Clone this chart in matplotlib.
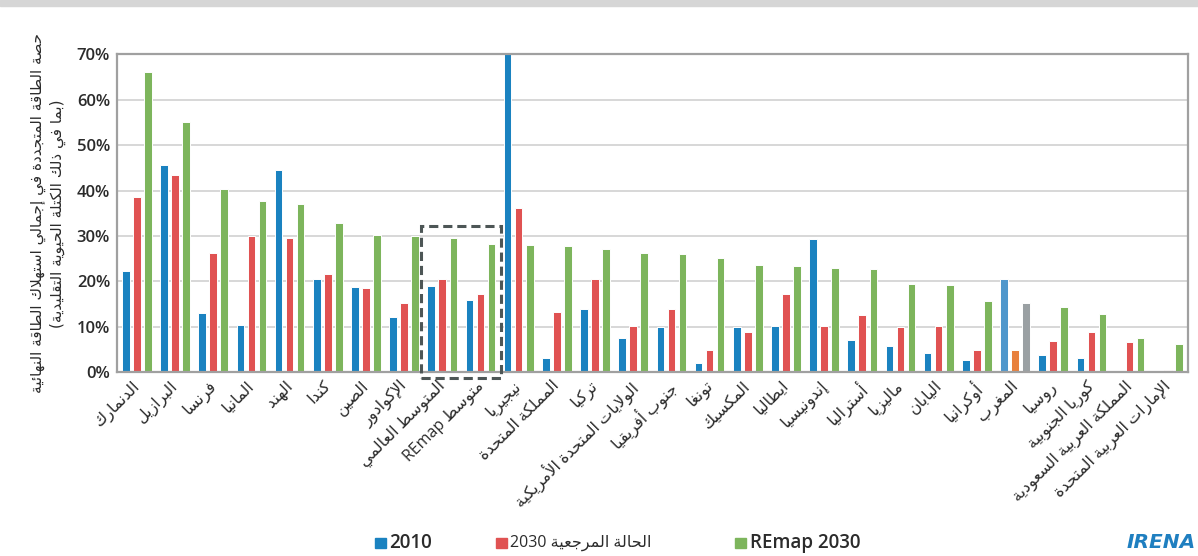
import re
import numpy as np
import matplotlib
matplotlib.use("Agg")
import matplotlib.pyplot as plt
from matplotlib.patches import Rectangle
from matplotlib.transforms import ScaledTranslation

# ---------------------------------------------------------------- data
countries = [
    "الدنمارك", "البرازيل", "فرنسا", "المانيا", "الهند", "كندا", "الصين",
    "الإكوادور", "المتوسط العالمي", "متوسط REmap", "نيجيريا", "المملكة المتحدة",
    "تركيا", "الولايات المتحدة الأمريكية", "جنوب أفريقيا", "تونغا", "المكسيك",
    "ايطاليا", "إندونيسيا", "أستراليا", "ماليزيا", "اليابان", "أوكرانيا",
    "المغرب", "روسيا", "كوريا الجنوبية", "المملكة العربية السعودية",
    "الإمارات العربية المتحدة",
]
share_2010 = [22.3, 45.7, 13.0, 10.4, 44.5, 20.6, 18.7, 12.2, 19.0, 16.0,
              70.0, 3.1, 14.0, 7.5, 9.9, 2.0, 9.9, 10.2, 29.3, 7.1, 5.7,
              4.3, 2.8, 20.6, 3.7, 3.1, 0.2, 0.0]
share_ref_2030 = [38.6, 43.5, 26.3, 29.9, 29.6, 21.7, 18.5, 15.2, 20.6, 17.3,
                  36.1, 13.3, 20.6, 10.2, 14.0, 4.9, 8.8, 17.3, 10.3, 12.7,
                  10.0, 10.2, 4.9, 4.9, 6.8, 8.9, 6.6, 0.4]
share_remap_2030 = [66.0, 55.1, 40.4, 37.6, 37.1, 32.9, 30.2, 29.9, 29.6, 28.2,
                    28.1, 27.9, 27.1, 26.3, 26.1, 25.1, 23.6, 23.4, 22.9, 22.7,
                    19.4, 19.3, 15.6, 15.3, 14.3, 12.8, 7.5, 6.3]
yticks = [0, 10, 20, 30, 40, 50, 60, 70]
highlight = ["المتوسط العالمي", "متوسط REmap"]
special = "المغرب"

series_names = ["2010", "الحالة المرجعية 2030", "REmap 2030"]
ylabel_lines = ["حصة الطاقة المتجددة في إجمالي استهلاك الطاقة النهائية",
                "(بما في ذلك الكتلة الحيوية التقليدية)"]

# ---------------------------------------------------------------- arabic shaping
_FORMS = {
    'ء': (0xFE80, 1), 'آ': (0xFE81, 2), 'أ': (0xFE83, 2), 'ؤ': (0xFE85, 2),
    'إ': (0xFE87, 2), 'ئ': (0xFE89, 4), 'ا': (0xFE8D, 2), 'ب': (0xFE8F, 4),
    'ة': (0xFE93, 2), 'ت': (0xFE95, 4), 'ث': (0xFE99, 4), 'ج': (0xFE9D, 4),
    'ح': (0xFEA1, 4), 'خ': (0xFEA5, 4), 'د': (0xFEA9, 2), 'ذ': (0xFEAB, 2),
    'ر': (0xFEAD, 2), 'ز': (0xFEAF, 2), 'س': (0xFEB1, 4), 'ش': (0xFEB5, 4),
    'ص': (0xFEB9, 4), 'ض': (0xFEBD, 4), 'ط': (0xFEC1, 4), 'ظ': (0xFEC5, 4),
    'ع': (0xFEC9, 4), 'غ': (0xFECD, 4), 'ف': (0xFED1, 4), 'ق': (0xFED5, 4),
    'ك': (0xFED9, 4), 'ل': (0xFEDD, 4), 'م': (0xFEE1, 4), 'ن': (0xFEE5, 4),
    'ه': (0xFEE9, 4), 'و': (0xFEED, 2), 'ى': (0xFEEF, 2), 'ي': (0xFEF1, 4),
}
_LAM_ALEF = {'آ': 0xFEF5, 'أ': 0xFEF7, 'إ': 0xFEF9, 'ا': 0xFEFB}


def _join_type(item):
    c = item[0]
    if c == 'LA':
        return 'R'
    if c in _FORMS:
        n = _FORMS[c][1]
        return 'D' if n == 4 else ('R' if n == 2 else 'U')
    return 'U'


def _shape(text):
    items, i = [], 0
    while i < len(text):
        c = text[i]
        if c == 'ل' and i + 1 < len(text) and text[i + 1] in _LAM_ALEF:
            items.append(('LA', _LAM_ALEF[text[i + 1]]))
            i += 2
        else:
            items.append((c, None))
            i += 1
    out = []
    for k, item in enumerate(items):
        t = _join_type(item)
        prev = _join_type(items[k - 1]) if k > 0 else 'U'
        nxt = _join_type(items[k + 1]) if k + 1 < len(items) else 'U'
        jp = t in 'DR' and prev == 'D'
        jn = t == 'D' and nxt in 'DR'
        c, lig = item
        if c == 'LA':
            out.append(chr(lig + (1 if jp else 0)))
        elif c in _FORMS:
            base = _FORMS[c][0]
            if t == 'U':
                off = 0
            elif jp and jn:
                off = 3
            elif jn:
                off = 2
            elif jp:
                off = 1
            else:
                off = 0
            out.append(chr(base + off))
        else:
            out.append(c)
    return ''.join(out)


_MIRROR = str.maketrans("()", ")(")


def ar(text):
    """Return the visual (left-to-right) form of an Arabic string."""
    if not re.search(r'[\u0600-\u06FF]', text):
        return text
    shaped = _shape(text)
    runs = re.findall(r'[A-Za-z0-9][A-Za-z0-9.,%]*|[^A-Za-z0-9]+', shaped)
    vis = []
    for r in reversed(runs):
        if re.match(r'[A-Za-z0-9]', r):
            vis.append(r)
        else:
            vis.append(r[::-1].translate(_MIRROR))
    return ''.join(vis)


# ---------------------------------------------------------------- style
C_BLUE, C_RED, C_GREEN = "#1a82c0", "#e05252", "#7db55c"
C_BLUE_M, C_ORANGE, C_GRAY = "#4f97cc", "#e8803c", "#9aa0a3"
TXT = "#2b2b2b"
AR_FONT = ["DejaVu Sans"]
NUM_FONT = ["Open Sans", "DejaVu Sans"]

plt.rcParams['font.family'] = ["DejaVu Sans"]

fig = plt.figure(figsize=(11.98, 5.56), dpi=100)
fig.patch.set_facecolor("white")
# thin band across the top edge
fig.patches.append(Rectangle((0, 1 - 5.5 / 556), 1, 5.5 / 556,
                             transform=fig.transFigure, color="#d6d6d6",
                             zorder=0))

ax = fig.add_axes([117 / 1198, 1 - 372.3 / 556, (1188 - 117) / 1198,
                   (372.3 - 54.3) / 556])

x = np.arange(len(countries))
off, w = 0.29, 0.2
c2010 = [C_BLUE_M if c == special else C_BLUE for c in countries]
cref = [C_ORANGE if c == special else C_RED for c in countries]
crem = [C_GRAY if c == special else C_GREEN for c in countries]
ax.bar(x - off, share_2010, w, color=c2010, edgecolor="white", linewidth=0.7,
       zorder=3)
ax.bar(x, share_ref_2030, w, color=cref, edgecolor="white", linewidth=0.7,
       zorder=3)
ax.bar(x + off, share_remap_2030, w, color=crem, edgecolor="white",
       linewidth=0.7, zorder=3)

ax.set_xlim(-0.52, len(countries) - 0.47)
ax.set_ylim(0, 70)
ax.set_yticks(yticks)
ax.set_yticklabels([f"{v}%" for v in yticks], fontsize=12, color=TXT,
                   family=NUM_FONT, fontweight='semibold')
ax.yaxis.grid(True, color="#d4d4d4", linewidth=1.3, zorder=0)
ax.set_axisbelow(True)
ax.tick_params(axis='y', length=0, pad=5)
ax.tick_params(axis='x', length=0, pad=4)
for sp in ax.spines.values():
    sp.set_color("#a0a0a0")
    sp.set_linewidth(1.6)
    sp.set_zorder(4)

ax.set_xticks(x)
ax.set_xticklabels([ar(c) for c in countries], rotation=45, ha='right',
                   va='top', rotation_mode='anchor', fontsize=11.5,
                   color=TXT, family=NUM_FONT)
shift = ScaledTranslation(-5 / 100, 0, fig.dpi_scale_trans)
for lab in ax.get_xticklabels():
    lab.set_transform(lab.get_transform() + shift)

ax.set_ylabel("\n".join(ar(s) for s in ylabel_lines), fontsize=11,
              color=TXT, family=AR_FONT, labelpad=8, linespacing=1.3)

# dashed frame around the two average groups
i0, i1 = countries.index(highlight[0]), countries.index(highlight[1])
frame = Rectangle((i0 - 0.57, -1.3), (i1 + 0.55) - (i0 - 0.57), 32.2 + 1.3,
                  fill=False, edgecolor="#4d5656", linewidth=2.2,
                  linestyle=(0, (3, 1.6)), clip_on=False, zorder=5)
ax.add_patch(frame)

# legend drawn along the bottom edge
leg_y = 1 - 543 / 556
sq = 10.5
entries = [(375, C_BLUE, series_names[0], 13.5, 'semibold'),
           (496, C_RED, series_names[1], 11.5, 'normal'),
           (735, C_GREEN, series_names[2], 13.5, 'semibold')]
for px, col, name, fs, fw in entries:
    fig.patches.append(Rectangle((px / 1198, leg_y - sq / 2 / 556), sq / 1198,
                                 sq / 556, transform=fig.transFigure,
                                 color=col))
    fig.text((px + sq + 4) / 1198, leg_y, ar(name), fontsize=fs,
             color=TXT, va='center', ha='left', family=NUM_FONT,
             fontweight=fw)

fig.text(1196 / 1198, leg_y, "IRENA", fontsize=14.5, color="#1f7fc0",
         fontweight='bold', fontstyle='italic', ha='right', va='center')

fig.savefig("out.png", dpi=100, facecolor="white")
